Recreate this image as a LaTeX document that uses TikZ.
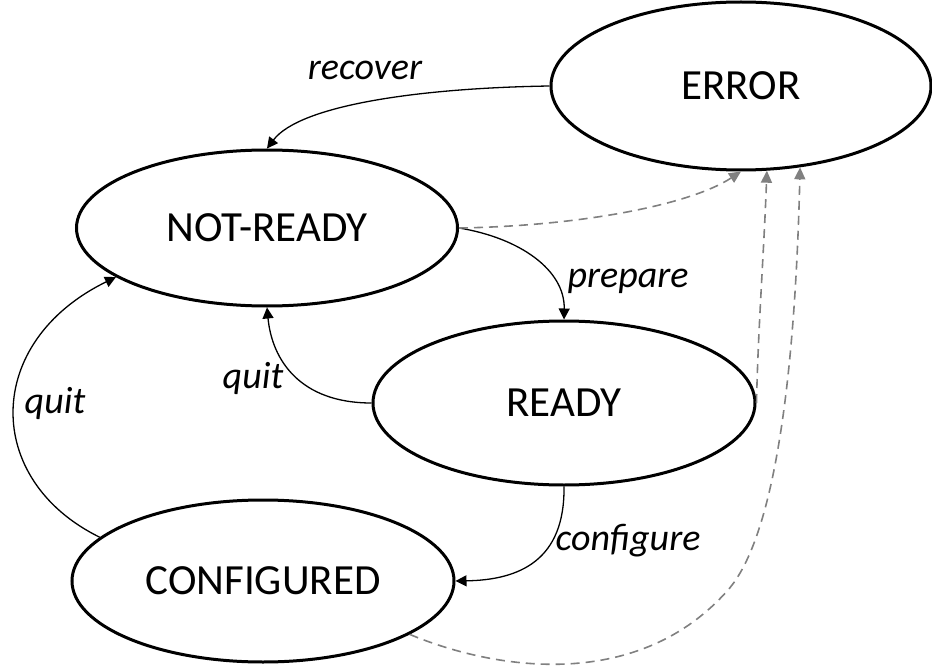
\documentclass[tikz,border=0pt]{standalone}
\usepackage{fontspec}
\setmainfont{Carlito}
\usetikzlibrary{shapes.geometric,arrows.meta}
\tikzset{
  state/.style={ellipse, draw=black, line width=3pt, inner sep=0pt, font=\fontsize{43}{47}\selectfont},
  trans/.style={line width=1.3pt, -{Triangle[length=11pt,width=11pt]}},
  errtrans/.style={line width=1.6pt, draw=gray, dash pattern=on 9pt off 6pt, -{Triangle[length=12pt,width=11pt,fill=gray]}},
  lbl/.style={font=\fontsize{38}{42}\selectfont\itshape}
}
\begin{document}
\begin{tikzpicture}[x=1pt,y=-1pt]
\useasboundingbox (0,0) rectangle (932,666);
\node[state, minimum width=380pt, minimum height=168pt] (E) at (741,86) {ERROR};
\node[state, minimum width=381pt, minimum height=156pt] (NR) at (267,228) {NOT-READY};
\node[state, minimum width=382pt, minimum height=164pt] (R) at (564,403) {READY};
\node[state, minimum width=382pt, minimum height=162pt] (C) at (263,581) {CONFIGURED};

\draw[trans] (E.west) .. controls (420,88) and (300,105) .. (NR.north);
\node[lbl] (lrec) at (365,70) {recover};

\draw[trans] (NR.east) .. controls (520,238) and (565,270) .. (R.north);
\node[lbl] (lprep) at (628,281) {prepare};

\draw[trans] (R.west) .. controls (300,403) and (272,360) .. (NR.south);
\node[lbl] (lq1) at (253,378) {quit};

\draw[trans] (R.south) .. controls (565,560) and (520,580) .. (C.east);
\node[lbl] (lconf) at (628,541) {configure};

\draw[trans] (C.165) .. controls (-17,480) and (-17,342) .. (NR.198);
\node[lbl] (lq2) at (55,403) {quit};

\draw[errtrans] (NR.east) .. controls (580,226) and (690,205) .. (E.270);
\draw[errtrans] (R.east) .. controls (758,330) and (764,250) .. (E.287);
\draw[errtrans] (C.340) .. controls (500,672) and (640,690) .. (728,590)
   .. controls (774,538) and (795,380) .. (E.306);
\end{tikzpicture}
\end{document}
